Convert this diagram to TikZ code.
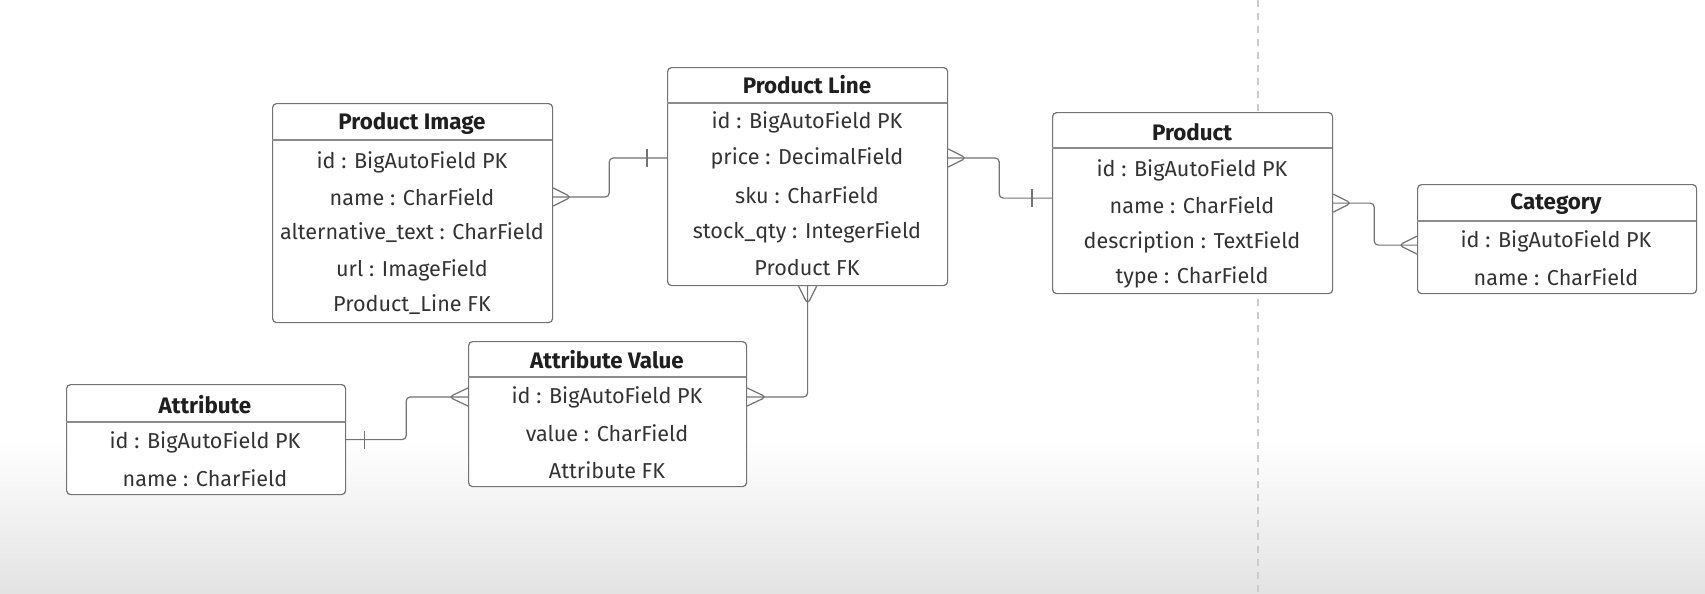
\documentclass[tikz,border=0pt]{standalone}
\usepackage{fontspec}
\setmainfont{Fira Sans}
\usetikzlibrary{calc}

\begin{document}
\begin{tikzpicture}[x=0.5pt,y=-0.5pt,
  tbl/.style={draw=black!55,line width=0.6pt,rounded corners=2pt,fill=white,inner sep=0pt,anchor=north west},
  sep/.style={draw=black!45,line width=0.6pt},
  hdr/.style={font=\bfseries\fontsize{11.2}{13}\selectfont,text=black!88},
  fld/.style={font=\fontsize{10.8}{12}\selectfont,text=black!80},
  rel/.style={draw=black!55,line width=0.6pt,rounded corners=2pt}]
\useasboundingbox (0,0) rectangle (1705,594);
\fill[white] (0,0) rectangle (1705,594);
\shade[top color=white,bottom color=black!11] (0,440) rectangle (1705,594);
\draw[black!20,line width=0.7pt,dash pattern=on 3.5pt off 3pt] (1258,0) -- (1258,594);
% Product Image
\node[tbl,minimum width=140pt,minimum height=109.5pt] (pimg) at (272,103) {};
\draw[sep] (272,140) -- (552,140);
\node[hdr] (pit) at (412,123) {Product Image};
\node[fld] (pi1) at (412,162) {id : BigAutoField PK};
\node[fld] (pi2) at (412,197) {name : CharField};
\node[fld] (pi3) at (412,233) {alternative\_text : CharField};
\node[fld] (pi4) at (412,270) {url : ImageField};
\node[fld] (pi5) at (412,305) {Product\_Line FK};
% Product Line
\node[tbl,minimum width=140pt,minimum height=109pt] (pline) at (667,67) {};
\draw[sep] (667,103) -- (947,103);
\node[hdr] (plt) at (807,85) {Product Line};
\node[fld] (pl1) at (807,122) {id : BigAutoField PK};
\node[fld] (pl2) at (807,158) {price : DecimalField};
\node[fld] (pl3) at (807,195) {sku : CharField};
\node[fld] (pl4) at (807,232) {stock\_qty : IntegerField};
\node[fld] (pl5) at (807,268) {Product FK};
% Product
\node[tbl,minimum width=140pt,minimum height=90.5pt] (prod) at (1052,112) {};
\draw[sep] (1052,148) -- (1332,148);
\node[hdr] (prt) at (1192,132) {Product};
\node[fld] (pr1) at (1192,170) {id : BigAutoField PK};
\node[fld] (pr2) at (1192,205) {name : CharField};
\node[fld] (pr3) at (1192,242) {description : TextField};
\node[fld] (pr4) at (1192,277) {type : CharField};
% Category
\node[tbl,minimum width=139.5pt,minimum height=54.5pt] (cat) at (1417,184) {};
\draw[sep] (1417,221) -- (1696,221);
\node[hdr] (cat0) at (1556,204) {Category};
\node[fld] (cat1) at (1556,241) {id : BigAutoField PK};
\node[fld] (cat2) at (1556,277) {name : CharField};
% Attribute Value
\node[tbl,minimum width=139pt,minimum height=72.5pt] (aval) at (468,341) {};
\draw[sep] (468,377) -- (746,377);
\node[hdr] (avt) at (607,360) {Attribute Value};
\node[fld] (av1) at (607,397) {id : BigAutoField PK};
\node[fld] (av2) at (607,433) {value : CharField};
\node[fld] (av3) at (607,470) {Attribute FK};
% Attribute
\node[tbl,minimum width=139.5pt,minimum height=55pt] (attr) at (66,384) {};
\draw[sep] (66,422) -- (345,422);
\node[hdr] (att) at (205,405) {Attribute};
\node[fld] (at1) at (205,442) {id : BigAutoField PK};
\node[fld] (at2) at (205,478) {name : CharField};
% relations
\draw[rel] (pimg.east |- pi2) -- ++(56,0) |- (pline.west |- pl2);
\draw[rel] (pimg.east |- pi2) ++(0,-9) -- ++(18,9) -- ++(-18,9);
\draw[rel] (pline.west |- pl2) ++(-20,-9) -- ++(0,18);
\draw[rel] (pline.east |- pl2) -- ++(51,0) |- ($(prod.west)+(0,-5)$);
\draw[rel] (pline.east |- pl2) ++(0,-9) -- ++(18,9) -- ++(-18,9);
\draw[rel] ($(prod.west)+(0,-5)$) ++(-20,-9) -- ++(0,18);
\draw[rel] (prod.east) -- ++(41,0) |- ($(cat.west)+(0,6)$);
\draw[rel] (prod.east) ++(0,-9) -- ++(18,9) -- ++(-18,9);
\draw[rel] ($(cat.west)+(0,6)$) ++(0,-9) -- ++(-18,9) -- ++(18,9);
\draw[rel] (pline.south) |- (aval.east |- av1);
\draw[rel] (pline.south) ++(-9,0) -- ++(9,18) -- ++(9,-18);
\draw[rel] (aval.east |- av1) ++(0,-9) -- ++(19,9) -- ++(-19,9);
\draw[rel] (attr.east) -- ++(60,0) |- (aval.west |- av1);
\draw[rel] (attr.east) ++(18,-9) -- ++(0,18);
\draw[rel] (aval.west |- av1) ++(0,-9) -- ++(-19,9) -- ++(19,9);
\end{tikzpicture}
\end{document}
